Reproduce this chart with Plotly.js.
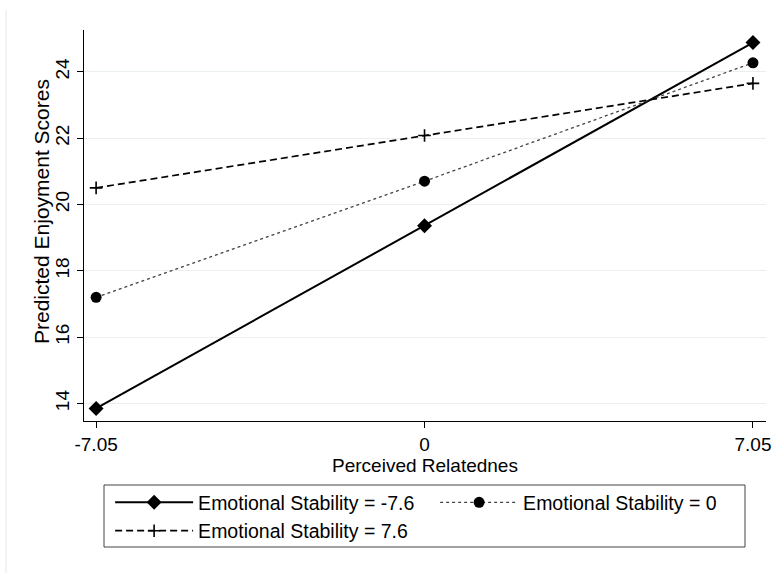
<!DOCTYPE html>
<html>
<head>
<meta charset="utf-8">
<script src="https://cdn.plot.ly/plotly-3.0.1.min.js"></script>
<style>html,body{margin:0;padding:0;background:#fff;}#chart{width:773px;height:573px;}</style>
</head>
<body>
<div id="chart"></div>
<script>
const relatedness = [-7.05, 0, 7.05];
const xTickLabels = ['-7.05', '0', '7.05'];
const yTickValues = [14, 16, 18, 20, 22, 24];
const seriesNames = ['Emotional Stability = -7.6', 'Emotional Stability = 0', 'Emotional Stability = 7.6'];
const esLow = [13.85, 19.36, 24.88];
const esMid = [17.2, 20.7, 24.27];
const esHigh = [20.5, 22.08, 23.65];
const xTitle = 'Perceived Relatednes';
const yTitle = 'Predicted Enjoyment Scores';

const FONT = 'Liberation Sans, Arial, Helvetica, sans-serif';

const traces = [
  {x: relatedness, y: esLow, name: seriesNames[0], mode: 'lines+markers', type: 'scatter',
   line: {color: '#000', width: 2}, marker: {symbol: 'diamond', size: 11.5, color: '#000'}},
  {x: relatedness, y: esMid, name: seriesNames[1], mode: 'lines+markers', type: 'scatter',
   line: {color: '#444', width: 1.3, dash: 'dot'}, marker: {symbol: 'circle', size: 11, color: '#000'}},
  {x: relatedness, y: esHigh, name: seriesNames[2], mode: 'lines+markers', type: 'scatter',
   line: {color: '#000', width: 1.7, dash: '7px,4px'},
   marker: {symbol: 'cross-thin-open', size: 9, color: '#000', line: {color: '#000', width: 1.6}}}
];

const layout = {
  width: 773, height: 573,
  margin: {l: 84, r: 7, t: 30, b: 152},
  paper_bgcolor: '#fff', plot_bgcolor: '#fff',
  font: {family: FONT, size: 19, color: '#000'},
  showlegend: true,
  xaxis: {
    range: [-7.31, 7.33], tickvals: relatedness, ticktext: xTickLabels,
    showgrid: false, zeroline: false, showline: true, linecolor: '#000', linewidth: 1,
    ticks: 'outside', ticklen: 6, tickcolor: '#000', tickwidth: 1,
    tickfont: {size: 19}, title: {text: xTitle, font: {size: 19}, standoff: 3}
  },
  yaxis: {
    range: [13.47, 25.26], tickvals: yTickValues, tickangle: -90,
    showgrid: true, gridcolor: '#eaf0f2', gridwidth: 1.2,
    zeroline: false, showline: true, linecolor: '#000', linewidth: 1,
    ticks: 'outside', ticklen: 6, tickcolor: '#000', tickwidth: 1,
    tickfont: {size: 19}
  },
  annotations: [
    {text: yTitle, textangle: -90, xref: 'paper', yref: 'paper',
     x: (41 - 84) / 682, y: (421 - 212) / 391, xanchor: 'center', yanchor: 'middle',
     showarrow: false, font: {size: 21}}
  ],
  legend: {
    orientation: 'h', x: 0.0383, xanchor: 'left', y: -0.159, yanchor: 'top',
    entrywidth: 232, entrywidthmode: 'pixels', itemwidth: 78,
    bgcolor: 'rgba(0,0,0,0)', borderwidth: 0, font: {size: 19.5}, traceorder: 'normal'
  },
  shapes: [
    {type: 'rect', xref: 'paper', yref: 'paper',
     x0: (104 - 84) / 682, x1: (745 - 84) / 682, y0: (421 - 547) / 391, y1: (421 - 485) / 391,
     line: {color: '#444', width: 1}},
    {type: 'line', xref: 'paper', yref: 'paper',
     x0: (6 - 84) / 682, x1: (6 - 84) / 682, y0: (421 - 573) / 391, y1: 1 + 20 / 391,
     line: {color: '#eaf1f3', width: 1.5}}
  ]
};

Plotly.newPlot('chart', traces, layout, {displayModeBar: false, staticPlot: true});
</script>
</body>
</html>
